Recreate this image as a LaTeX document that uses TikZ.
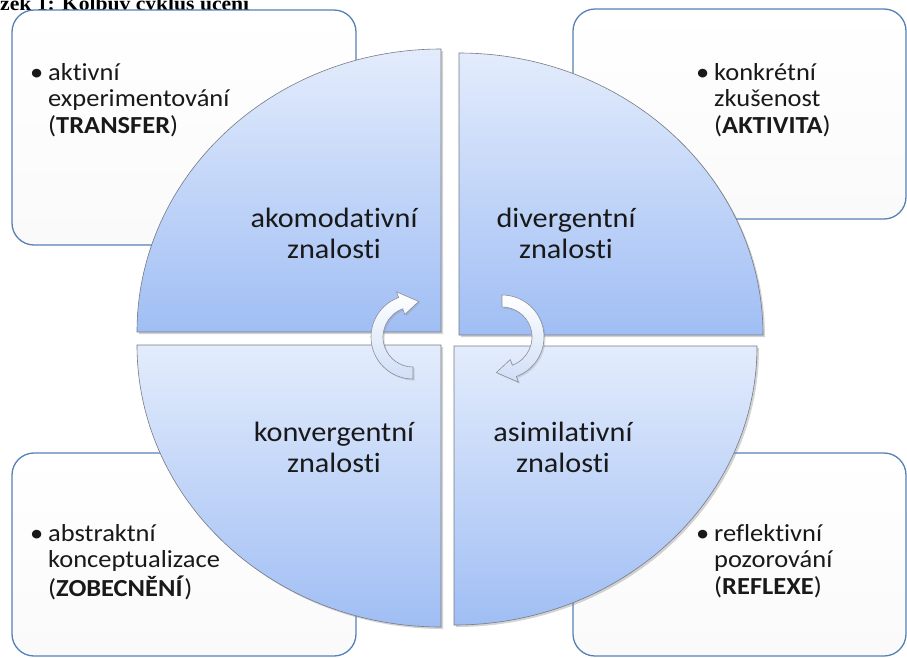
\documentclass[tikz,border=0pt]{standalone}
\usepackage{fontspec}
\setmainfont{Carlito}[FakeStretch=1.08,Ligatures=NoCommon]
\newfontfamily\captionfont{Liberation Serif}[FakeStretch=1.08]
\usetikzlibrary{positioning,calc,shadows}
\definecolor{panelline}{HTML}{5680B6}
\definecolor{quartertop}{HTML}{E3ECFC}
\definecolor{quarterbot}{HTML}{A0BEF4}
\definecolor{quarterline}{HTML}{767B84}
\definecolor{arrowbot}{HTML}{D0DEF7}
\definecolor{arrowline}{HTML}{8A8F97}
\newcommand{\stageitem}[3]{\begin{tabular}[t]{@{}l@{}l@{}}\makebox[18pt][l]{\textbullet}&#1\\&#2\\&(\textbf{#3})\end{tabular}}
\newcommand{\cyclearrow}[2]{%
  \begin{scope}[shift={#1},rotate=#2]
    \path[cyc] (90:42) arc[start angle=90,end angle=250,radius=42]
      -- (250:48) -- (279:36) -- (250:24) -- (250:30)
      arc[start angle=250,end angle=90,radius=30] -- cycle;
  \end{scope}}

\begin{document}
\begin{tikzpicture}[x=1pt,y=-1pt,
  panel/.style={draw=panelline,line width=1.3pt,rounded corners=22pt,
                top color=white,bottom color=black!2},
  quarter/.style={draw=quarterline,line width=0.6pt,top color=quartertop,
                  bottom color=quarterbot,
                  drop shadow={opacity=0.35,shadow xshift=2pt,shadow yshift=-2pt}},
  stage/.style={align=center,inner sep=0pt,text=black!90,
                font=\fontsize{28}{31}\selectfont},
  item/.style={anchor=base west,inner sep=0pt,text=black!90,
               font=\fontsize{24.5}{26.5}\selectfont},
  cyc/.style={draw=arrowline,line width=0.6pt,top color=white,bottom color=arrowbot,
              drop shadow={opacity=0.25,shadow xshift=1.5pt,shadow yshift=-1.5pt}}
]
\useasboundingbox (0,0) rectangle (907,657);
\node[anchor=base west,inner sep=0pt,font=\captionfont\bfseries\fontsize{20}{22}\selectfont]
  (caption) at (0,10) {zek 1: Kolbův cyklus učení};

\path[panel] (12,10) rectangle (356,245);
\path[panel] (573,9) rectangle (906,219);
\path[panel] (12,453) rectangle (356,656);
\path[panel] (573,453) rectangle (906,656);

\node[item] (transfer) at (30,80) {\stageitem{aktivní}{experimentování}{TRANSFER}};
\node[item] (aktivita) at (696,80) {\stageitem{konkrétní}{zkušenost}{AKTIVITA}};
\node[item] (zobecneni) at (30,541) {\stageitem{abstraktní}{konceptualizace}{ZOBECNĚNÍ}};
\node[item] (reflexe) at (696,541) {\stageitem{reflektivní}{pozorování}{REFLEXE}};

\path[quarter] (441,332) -- (137,332)
  arc[start angle=180,end angle=270,x radius=304,y radius=283] -- cycle;
\path[quarter] (459,335) -- (459,53)
  arc[start angle=270,end angle=360,x radius=304,y radius=282] -- cycle;
\path[quarter] (441,345) -- (137,345)
  arc[start angle=180,end angle=90,x radius=304,y radius=282] -- cycle;
\path[quarter] (454,346) -- (757,346)
  arc[start angle=0,end angle=90,x radius=303,y radius=279] -- cycle;

\node[stage] (akomod) at (334,233) {akomodativní\\znalosti};
\node[stage] (diverg) at (566,233) {divergentní\\znalosti};
\node[stage] (konverg) at (334,447) {konvergentní\\znalosti};
\node[stage] (asimil) at (563,447) {asimilativní\\znalosti};

\cyclearrow{(413,337)}{0}
\cyclearrow{(502,337)}{180}
\end{tikzpicture}
\end{document}
